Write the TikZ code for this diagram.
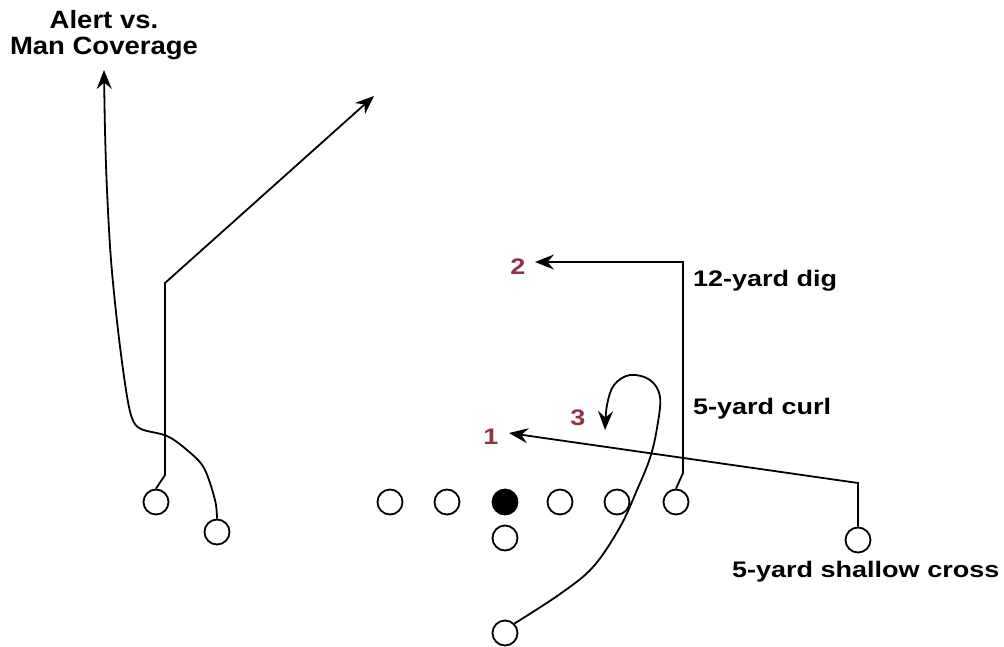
\documentclass[tikz,border=0pt]{standalone}
\usepackage{fontspec}
\newfontfamily\lblfont{Liberation Sans}[FakeStretch=1.2]
\newfontfamily\ttlfont{Liberation Sans}[FakeStretch=1.1]
\usetikzlibrary{arrows.meta}
\definecolor{numred}{RGB}{145,52,66}
\tikzset{
  player/.style={circle, draw=black, line width=1.8pt, minimum size=25pt, inner sep=0pt},
  ball/.style={player, fill=black},
  route/.style={line width=1.8pt, draw=black},
  arr/.style={-{Stealth[length=19pt,width=15pt,inset=6.5pt]}},
  lbl/.style={font=\lblfont\bfseries\fontsize{22.5pt}{24pt}\selectfont, inner sep=0pt},
  num/.style={lbl, text=numred},
  ttl/.style={font=\ttlfont\bfseries\fontsize{25pt}{26pt}\selectfont, inner sep=0pt, align=center}
}
\begin{document}
\begin{tikzpicture}[x=1pt,y=-1pt]
\useasboundingbox[fill=white] (0,0) rectangle (1004,646);
% players
\node[player] (wra) at (156,502) {};
\node[player] (wrb) at (217,532) {};
\node[player] (lt) at (390,502) {};
\node[player] (lg) at (447,502) {};
\node[ball] (c) at (505,502) {};
\node[player] (rg) at (560,502) {};
\node[player] (rt) at (617,502) {};
\node[player] (te) at (676,502) {};
\node[player] (qb) at (505,538) {};
\node[player] (rb) at (505,633) {};
\node[player] (wr) at (858,540) {};
% free ends
\coordinate (ta) at (374,96);
\coordinate (tb) at (104,70);
\coordinate (t2) at (535,262);
\coordinate (t1) at (509,433);
\coordinate (t3) at (605,430);
% routes
\draw[route,arr] (wra.north) -- (165,475) -- (165,283) -- (ta);
\draw[route,arr] plot[smooth, tension=0.55] coordinates {(wrb.north) (215,500) (204,468) (187,450) (167,436) (141,429) (132,418) (126,390) (118,330) (111,260) (107,190) (105,130) (tb)};
\draw[route,arr] (te.north) -- (683,473) -- (683,262) -- (t2);
\draw[route,arr] (wr.north) -- (858,483) -- (t1);
\draw[route,arr] plot[smooth, tension=0.6] coordinates {(rb.north east) (560,594) (593,567) (620,527) (637,490) (650,458) (657,428) (660,397) (650,380) (630,375) (614,385) (607,405) (t3)};
% labels
\node[ttl] (title) at (104,35) {Alert vs.\\Man Coverage};
\node[lbl, anchor=base west] (ldig) at (693,286) {12-yard dig};
\node[lbl, anchor=base west] (lcurl) at (693,414) {5-yard curl};
\node[lbl, anchor=base west] (lcross) at (732,577) {5-yard shallow cross};
\node[num] (n2) at (518,267) {2};
\node[num] (n1) at (491,437) {1};
\node[num] (n3) at (578,418) {3};
\end{tikzpicture}
\end{document}
